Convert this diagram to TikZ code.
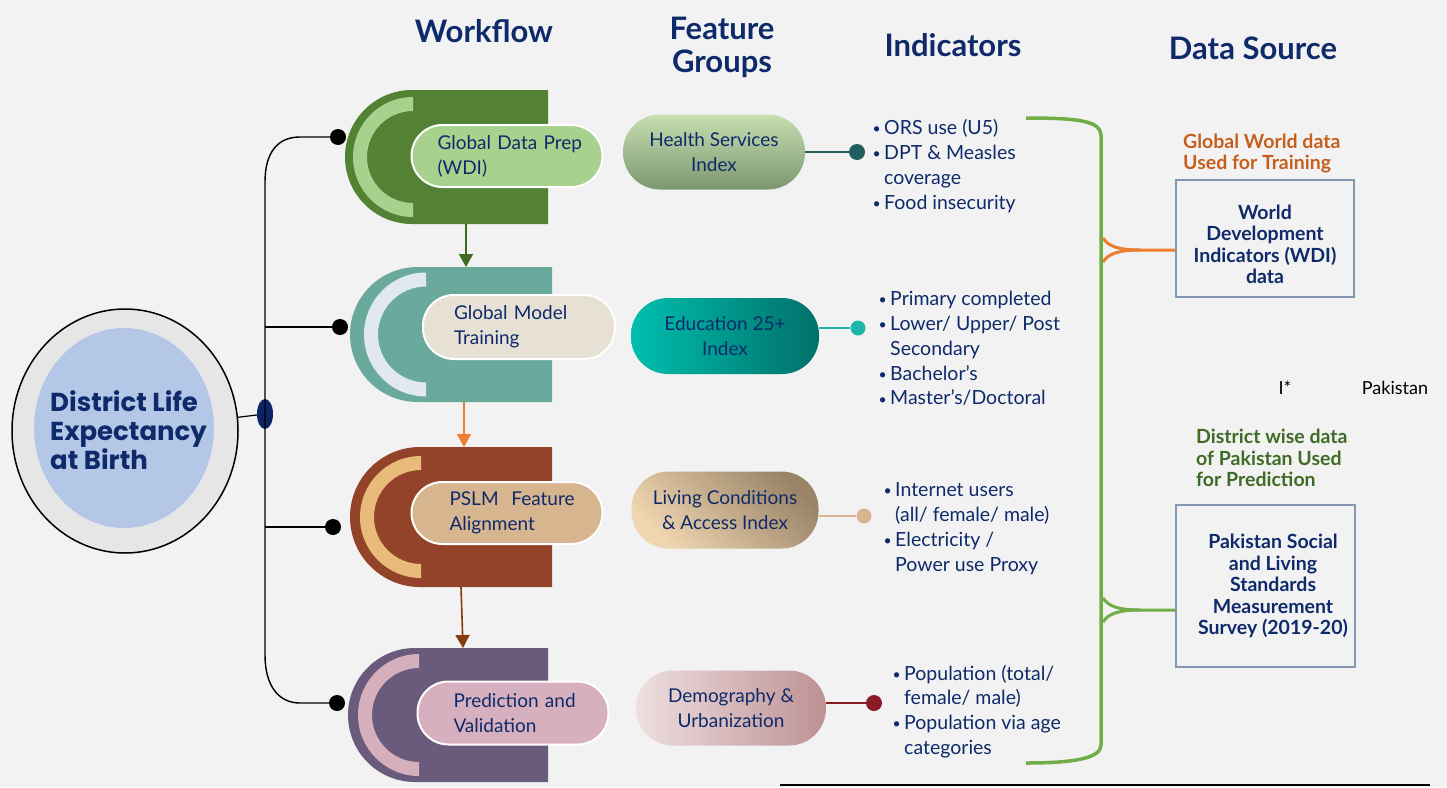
\documentclass[tikz,border=0pt]{standalone}
\usepackage{fontspec}
\setmainfont{Lato}
\newfontfamily\futfont{Poppins}
\usetikzlibrary{arrows.meta,shapes.geometric}
\definecolor{bgc}{HTML}{F2F2F2}
\definecolor{navy}{HTML}{0E2A6A}
\definecolor{hubc}{HTML}{0B2565}
\definecolor{ringgray}{HTML}{E6E6E6}
\definecolor{circblue}{HTML}{B4C7E7}
\definecolor{wgreen}{HTML}{548235}
\definecolor{wgreenl}{HTML}{A9D18E}
\definecolor{wteal}{HTML}{6AAA9D}
\definecolor{wteall}{HTML}{E1E8EF}
\definecolor{pill2c}{HTML}{E7E1D5}
\definecolor{wbrown}{HTML}{93432A}
\definecolor{wbrownl}{HTML}{E8BB7A}
\definecolor{pill3c}{HTML}{D7B58F}
\definecolor{wpurp}{HTML}{6A5A7B}
\definecolor{wpurpl}{HTML}{D6AFBD}
\definecolor{pill4c}{HTML}{D6B0BE}
\definecolor{arr1}{HTML}{3D6B21}
\definecolor{arr2}{HTML}{ED7D31}
\definecolor{arr3}{HTML}{843C0C}
\definecolor{dotA}{HTML}{215E5E}
\definecolor{dotB}{HTML}{20B5AA}
\definecolor{dotC}{HTML}{D9B590}
\definecolor{dotD}{HTML}{8B1C25}
\definecolor{brk}{HTML}{70AD47}
\definecolor{boxb}{HTML}{8497B0}
\definecolor{otext}{HTML}{C65F1E}
\definecolor{gtext}{HTML}{3F6B25}
\definecolor{fAt}{HTML}{C6DFB0}
\definecolor{fAb}{HTML}{7C9670}
\definecolor{fBl}{HTML}{00BFAE}
\definecolor{fBr}{HTML}{00706A}
\definecolor{fCt}{HTML}{9A8468}
\definecolor{fCb}{HTML}{F0D6B0}
\definecolor{fDl}{HTML}{EEDFE0}
\definecolor{fDr}{HTML}{BE9193}
\newcommand\pillsz{\fontsize{19}{25}\selectfont}
\newcommand\indsz{\fontsize{19.5}{24.8}\selectfont}
\newcommand\hdsz{\fontsize{31}{33}\selectfont\bfseries}
\newcommand\boxsz{\fontsize{19.5}{21.5}\selectfont\bfseries}
\newcommand\bul{\makebox[13pt][l]{\hspace{1.5pt}\raisebox{0.8pt}{\fontsize{14}{14}\selectfont •}}}
\newcommand\ind{\hspace*{13pt}}
\newcommand\rs{\hspace*{15pt}}
\begin{document}
\begin{tikzpicture}[x=1pt,y=-1pt,
  bus/.style={line width=1.4pt,black},
  bdot/.style={circle,fill=black,inner sep=0pt,minimum size=16pt},
  wpill/.style={rounded corners=31pt,draw=white,line width=2pt,inner ysep=0pt,align=left,font=\pillsz,text=navy,minimum height=62pt},
  fpill/.style={rounded corners=37pt,inner sep=0pt,align=center,font=\pillsz,text=navy},
  edot/.style={circle,inner sep=0pt},
  ind/.style={inner sep=0pt,align=left,font=\indsz,text=navy,anchor=west},
  hd/.style={inner sep=0pt,align=center,font=\hdsz,text=navy},
  srcbox/.style={draw=boxb,line width=1.6pt,inner sep=0pt,align=center,font=\boxsz,text=navy},
  flow/.style={line width=1.6pt,-{Triangle[width=14pt,length=13pt]}}
]
\useasboundingbox (0,0) rectangle (1447,787);
\fill[bgc] (0,0) rectangle (1447,787);

% headers
\node[hd] (h1) at (484,31) {Workflow};
\node[hd] (h2) at (722,47) {Feature\\Groups};
\node[hd] (h3) at (953,45) {Indicators};
\node[hd] (h4) at (1253,48) {Data Source};

% central circle
\node[ellipse,draw=black,line width=1.5pt,fill=ringgray,minimum width=226pt,minimum height=244pt,inner sep=0pt] (outer) at (125,431) {};
\node[ellipse,fill=circblue,minimum width=180pt,minimum height=200pt,inner sep=0pt] (inner) at (124,428) {};
\node[inner sep=0pt,anchor=west,align=left,text=navy,font=\futfont\bfseries\fontsize{26}{29}\selectfont] (title) at (50,430) {District Life\\Expectancy\\at Birth};

% hub and bus
\node[ellipse,fill=hubc,minimum width=16pt,minimum height=30pt,inner sep=0pt] (hub) at (265,414) {};
\node[bdot] (d1) at (338,137) {};
\node[bdot] (d2) at (340,327) {};
\node[bdot] (d3) at (333,527) {};
\node[bdot] (d4) at (337,703) {};
\draw[bus] (d1) -- (300,137) .. controls (278,137) and (265,152) .. (265,182) -- (265,655) .. controls (265,685) and (278,703) .. (300,703) -- (d4);
\draw[bus] (265,327) -- (d2);
\draw[bus] (265,527) -- (d3);
\draw[line width=1.2pt] (outer) -- (hub);

% workflow shapes
\fill[wgreen] (548,90) -- (412,90) arc[start angle=-90,end angle=-270,radius=67] -- (548,224) -- cycle;
\fill[wgreenl] (413,97) arc[start angle=-90,end angle=-270,radius=60] -- (413,203) arc[start angle=90,end angle=270,radius=46] -- cycle;
\fill[wteal] (552,267) -- (417.5,267) arc[start angle=-90,end angle=-270,radius=67.5] -- (552,402) -- cycle;
\fill[wteall] (426,272.5) arc[start angle=-90,end angle=-270,radius=62] -- (426,382.5) arc[start angle=90,end angle=270,radius=48] -- cycle;
\fill[wbrown] (552,447) -- (420,447) arc[start angle=-90,end angle=-270,radius=70] -- (552,587) -- cycle;
\fill[wbrownl] (421,456) arc[start angle=-90,end angle=-270,radius=61] -- (421,564) arc[start angle=90,end angle=270,radius=47] -- cycle;
\fill[wpurp] (548,648) -- (415,648) arc[start angle=-90,end angle=-270,radius=67] -- (548,782) -- cycle;
\fill[wpurpl] (419,654) arc[start angle=-90,end angle=-270,radius=61] -- (419,762) arc[start angle=90,end angle=270,radius=47] -- cycle;

\coordinate (s1b) at (466,224);
\coordinate (s2t) at (466,267);
\coordinate (s2b) at (464,402);
\coordinate (s3t) at (464,447);
\coordinate (s3b) at (461,587);
\coordinate (s4t) at (463,648);
\draw[flow,arr1] (s1b) -- (s2t);
\draw[flow,arr2] (s2b) -- (s3t);
\draw[flow,arr3] (s3b) -- (s4t);

\node[wpill,fill=wgreenl,inner xsep=26pt,text width=139pt] (p1) at (507,156) {\mbox{Global Data Prep}\\(WDI)};
\node[wpill,fill=pill2c,inner xsep=31pt,text width=130pt,minimum height=64pt] (p2) at (519,327) {\mbox{Global Model}\\Training};
\node[wpill,fill=pill3c,inner xsep=38pt,text width=115pt] (p3) at (507,513) {\mbox{PSLM\ \ Feature}\\Alignment};
\node[wpill,fill=pill4c,inner xsep=36pt,text width=119pt,minimum height=63pt] (p4) at (513,713) {\mbox{Prediction and}\\Validation};

% feature groups
\node[fpill,top color=fAt,bottom color=fAb,minimum width=182pt,minimum height=75pt] (f1) at (714,152) {Health Services\\Index};
\node[fpill,left color=fBl,right color=fBr,minimum width=188pt,minimum height=76pt] (f2) at (725,336) {Education 25+\\Index};
\node[fpill,top color=fCt,bottom color=fCb,shading angle=-45,minimum width=187pt,minimum height=77pt] (f3) at (725,510) {Living Conditions\\\& Access Index};
\node[fpill,left color=fDl,right color=fDr,minimum width=190pt,minimum height=75pt] (f4) at (731,708) {Demography \&\\Urbanization};

\node[edot,fill=dotA,minimum size=16pt] (e1) at (857,152) {};
\node[edot,fill=dotB,minimum size=15pt] (e2) at (858,328) {};
\node[edot,fill=dotC,minimum size=15pt] (e3) at (864,516) {};
\node[edot,fill=dotD,minimum size=16pt] (e4) at (874,703) {};
\draw[dotA,line width=1.5pt] (f1) -- (e1);
\draw[dotB,line width=1.5pt] (e2) -- (e2 -| f2.east);
\draw[dotC,line width=1.5pt] (e3) -- (e3 -| f3.east);
\draw[dotD,line width=1.5pt] (e4) -- (e4 -| f4.east);

% indicators
\node[ind] (i1) at (871,166) {\bul ORS use (U5)\\\bul DPT \& Measles\\\ind coverage\\\bul Food insecurity};
\node[ind] (i2) at (877,348.5) {\bul Primary completed\\\bul Lower/ Upper/ Post\\\ind Secondary\\\bul Bachelor’s\\\bul Master’s/Doctoral};
\node[ind] (i3) at (882,528.5) {\bul Internet users\\\ind (all/ female/ male)\\\bul Electricity /\\\ind Power use Proxy};
\node[ind] (i4) at (891,711.5) {\bul Population (total/\\\ind female/ male)\\\bul Population via age\\\ind categories};

% bracket
\draw[brk,line width=3.5pt] (1026,118) .. controls (1080,118) and (1101,121) .. (1101,136) -- (1101,745) .. controls (1101,758) and (1075,763) .. (1026,763);

% data sources
\node[srcbox,minimum width=178pt,minimum height=117pt] (wdi) at (1265,238.5) {\rule{0pt}{26pt}World\\Development\\Indicators (WDI)\\data};
\node[srcbox,minimum width=179pt,minimum height=162pt] (pslm) at (1265.5,586) {\rs Pakistan Social\\\rs and Living\\\rs Standards\\\rs Measurement\\\rs Survey (2019-20)};
\node[inner sep=0pt,anchor=west,align=left,font=\boxsz,text=otext] (lab1) at (1183,153.5) {Global World data\\Used for Training};
\node[inner sep=0pt,anchor=west,align=left,font=\boxsz,text=gtext] (lab2) at (1196,458) {District wise data\\of Pakistan Used\\for Prediction};
\node[inner sep=0pt,font=\fontsize{18}{20}\selectfont] (star) at (1285,388) {I*};
\node[inner sep=0pt,font=\fontsize{18}{20}\selectfont] (pak) at (1395,388) {Pakistan};

\draw[arr2,line width=3pt] ([yshift=-11.5pt]wdi.west) -- (1140,250) .. controls (1118,250) and (1108,246) .. (1103,238);
\draw[arr2,line width=3pt] (1140,250) .. controls (1118,250) and (1108,254) .. (1103,262);
\draw[brk,line width=3pt] ([yshift=-24pt]pslm.west) -- (1140,610) .. controls (1118,610) and (1108,606) .. (1103,598);
\draw[brk,line width=3pt] (1140,610) .. controls (1118,610) and (1108,614) .. (1103,622);

\coordinate (bl1) at (780,785);
\coordinate (bl2) at (1430,785);
\draw[line width=2.5pt] (bl1) -- (bl2);
\end{tikzpicture}
\end{document}
